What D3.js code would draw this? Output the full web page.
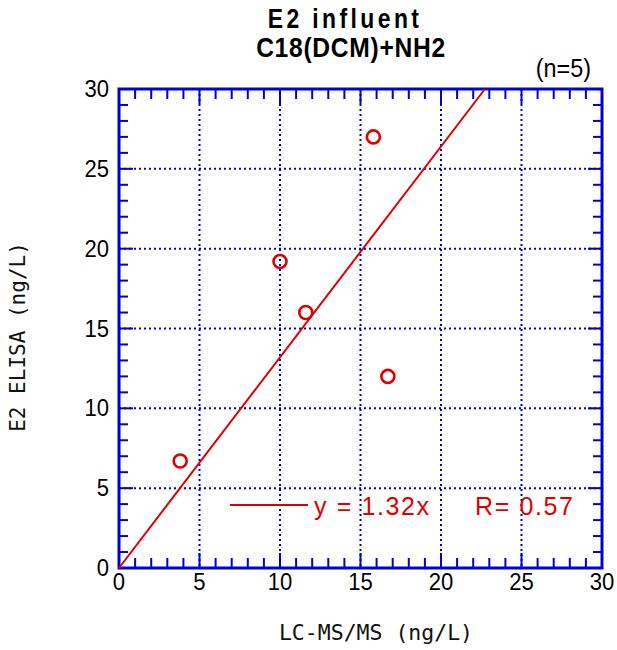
<!DOCTYPE html>
<html><head><meta charset="utf-8">
<script src="https://cdn.jsdelivr.net/npm/d3@7"></script>
<style>body{margin:0;background:#fff}</style>
</head><body>
<svg id="c" width="617" height="650"></svg>
<script>
const xVals = [3.8, 10.0, 11.6, 15.8, 16.7];
const yVals = [6.7, 19.2, 16.0, 27.0, 12.0];
const slope = 1.32;
const rText = "R= 0.57";
const majorTicks = [0, 5, 10, 15, 20, 25, 30];
const minorTicks = d3.range(0, 31, 1);
const titleLines = ["E2 influent", "C18(DCM)+NH2"];
const nLabel = "(n=5)";
const xLabel = "LC-MS/MS (ng/L)";
const yLabel = "E2 ELISA (ng/L)";

const svg = d3.select("#c");
const L = 119, R = 602, T = 89, B = 568;
const x = d3.scaleLinear().domain([0, 30]).range([L, R]);
const y = d3.scaleLinear().domain([0, 30]).range([B, T]);
const blue = "#0000d8", red = "#e00000";

// grid
const g = svg.append("g");
majorTicks.slice(1, -1).forEach(v => {
  g.append("line").attr("x1", x(v)).attr("x2", x(v)).attr("y1", T).attr("y2", B)
    .attr("stroke", blue).attr("stroke-width", 2).attr("stroke-dasharray", "2,3");
  g.append("line").attr("y1", y(v)).attr("y2", y(v)).attr("x1", L).attr("x2", R)
    .attr("stroke", blue).attr("stroke-width", 2).attr("stroke-dasharray", "2,3");
});

// ticks (inward, all four sides)
const isMajor = v => v % 5 === 0;
minorTicks.forEach(v => {
  const len = isMajor(v) ? 15 : 10;
  const lenY = isMajor(v) ? 14 : 9;
  g.append("line").attr("x1", x(v)).attr("x2", x(v)).attr("y1", B).attr("y2", B - len).attr("stroke", blue).attr("stroke-width", 2);
  g.append("line").attr("x1", x(v)).attr("x2", x(v)).attr("y1", T).attr("y2", T + len).attr("stroke", blue).attr("stroke-width", 2);
  g.append("line").attr("y1", y(v)).attr("y2", y(v)).attr("x1", L).attr("x2", L + lenY).attr("stroke", blue).attr("stroke-width", 2);
  g.append("line").attr("y1", y(v)).attr("y2", y(v)).attr("x1", R).attr("x2", R - lenY).attr("stroke", blue).attr("stroke-width", 2);
});
g.append("rect").attr("x", L).attr("y", T).attr("width", R - L).attr("height", B - T)
  .attr("fill", "none").attr("stroke", blue).attr("stroke-width", 3);

// tick labels
const lblFont = "'Liberation Sans', sans-serif";
majorTicks.forEach(v => {
  svg.append("text").attr("transform", `translate(${x(v)},${B + 22}) scale(0.92,1)`).attr("text-anchor", "middle")
    .attr("font-family", lblFont).attr("font-size", 24).text(v);
  svg.append("text").attr("transform", `translate(${L - 10},${y(v) + 8}) scale(0.92,1)`).attr("text-anchor", "end")
    .attr("font-family", lblFont).attr("font-size", 24).text(v);
});

// regression line
const xEnd = 30 / slope;
svg.append("line").attr("x1", x(0)).attr("y1", y(0)).attr("x2", x(xEnd)).attr("y2", y(slope * xEnd))
  .attr("stroke", red).attr("stroke-width", 2);

// points
svg.selectAll("circle.pt").data(xVals.map((d, i) => [d, yVals[i]])).enter().append("circle")
  .attr("cx", d => x(d[0])).attr("cy", d => y(d[1])).attr("r", 6.5)
  .attr("fill", "none").attr("stroke", red).attr("stroke-width", 2.6);

// legend
svg.append("line").attr("x1", 230).attr("x2", 308).attr("y1", 505).attr("y2", 505).attr("stroke", red).attr("stroke-width", 2);
svg.append("text").attr("x", 314).attr("y", 515).attr("fill", red).attr("font-family", lblFont)
  .attr("font-size", 25).attr("letter-spacing", 1.6).attr("xml:space", "preserve").text("y = " + slope.toFixed(2) + "x");
svg.append("text").attr("x", 475).attr("y", 515).attr("fill", red).attr("font-family", lblFont)
  .attr("font-size", 25).attr("letter-spacing", 1.6).attr("xml:space", "preserve").text(rText);

// titles
svg.append("text").attr("transform", "translate(345,28) scale(0.85,1)").attr("text-anchor", "middle").attr("font-family", lblFont)
  .attr("font-size", 27).attr("font-weight", "bold").attr("letter-spacing", 4).text(titleLines[0]);
svg.append("text").attr("transform", "translate(351,57) scale(0.88,1)").attr("text-anchor", "middle").attr("font-family", lblFont)
  .attr("font-size", 28).attr("font-weight", "bold").attr("letter-spacing", 0.8).text(titleLines[1]);
svg.append("text").attr("transform", "translate(591,77) scale(0.9,1)").attr("text-anchor", "end").attr("font-family", lblFont)
  .attr("font-size", 26).text(nLabel);

// axis labels
svg.append("text").attr("x", 376).attr("y", 640).attr("text-anchor", "middle").attr("font-family", "'DejaVu Sans Mono', monospace")
  .attr("font-size", 21.5).attr("fill", "#111").text(xLabel);
svg.append("text").attr("transform", "translate(25,337) rotate(-90)").attr("text-anchor", "middle")
  .attr("font-family", "'DejaVu Sans Mono', monospace").attr("font-size", 21).attr("fill", "#111").text(yLabel);
</script>
</body></html>
